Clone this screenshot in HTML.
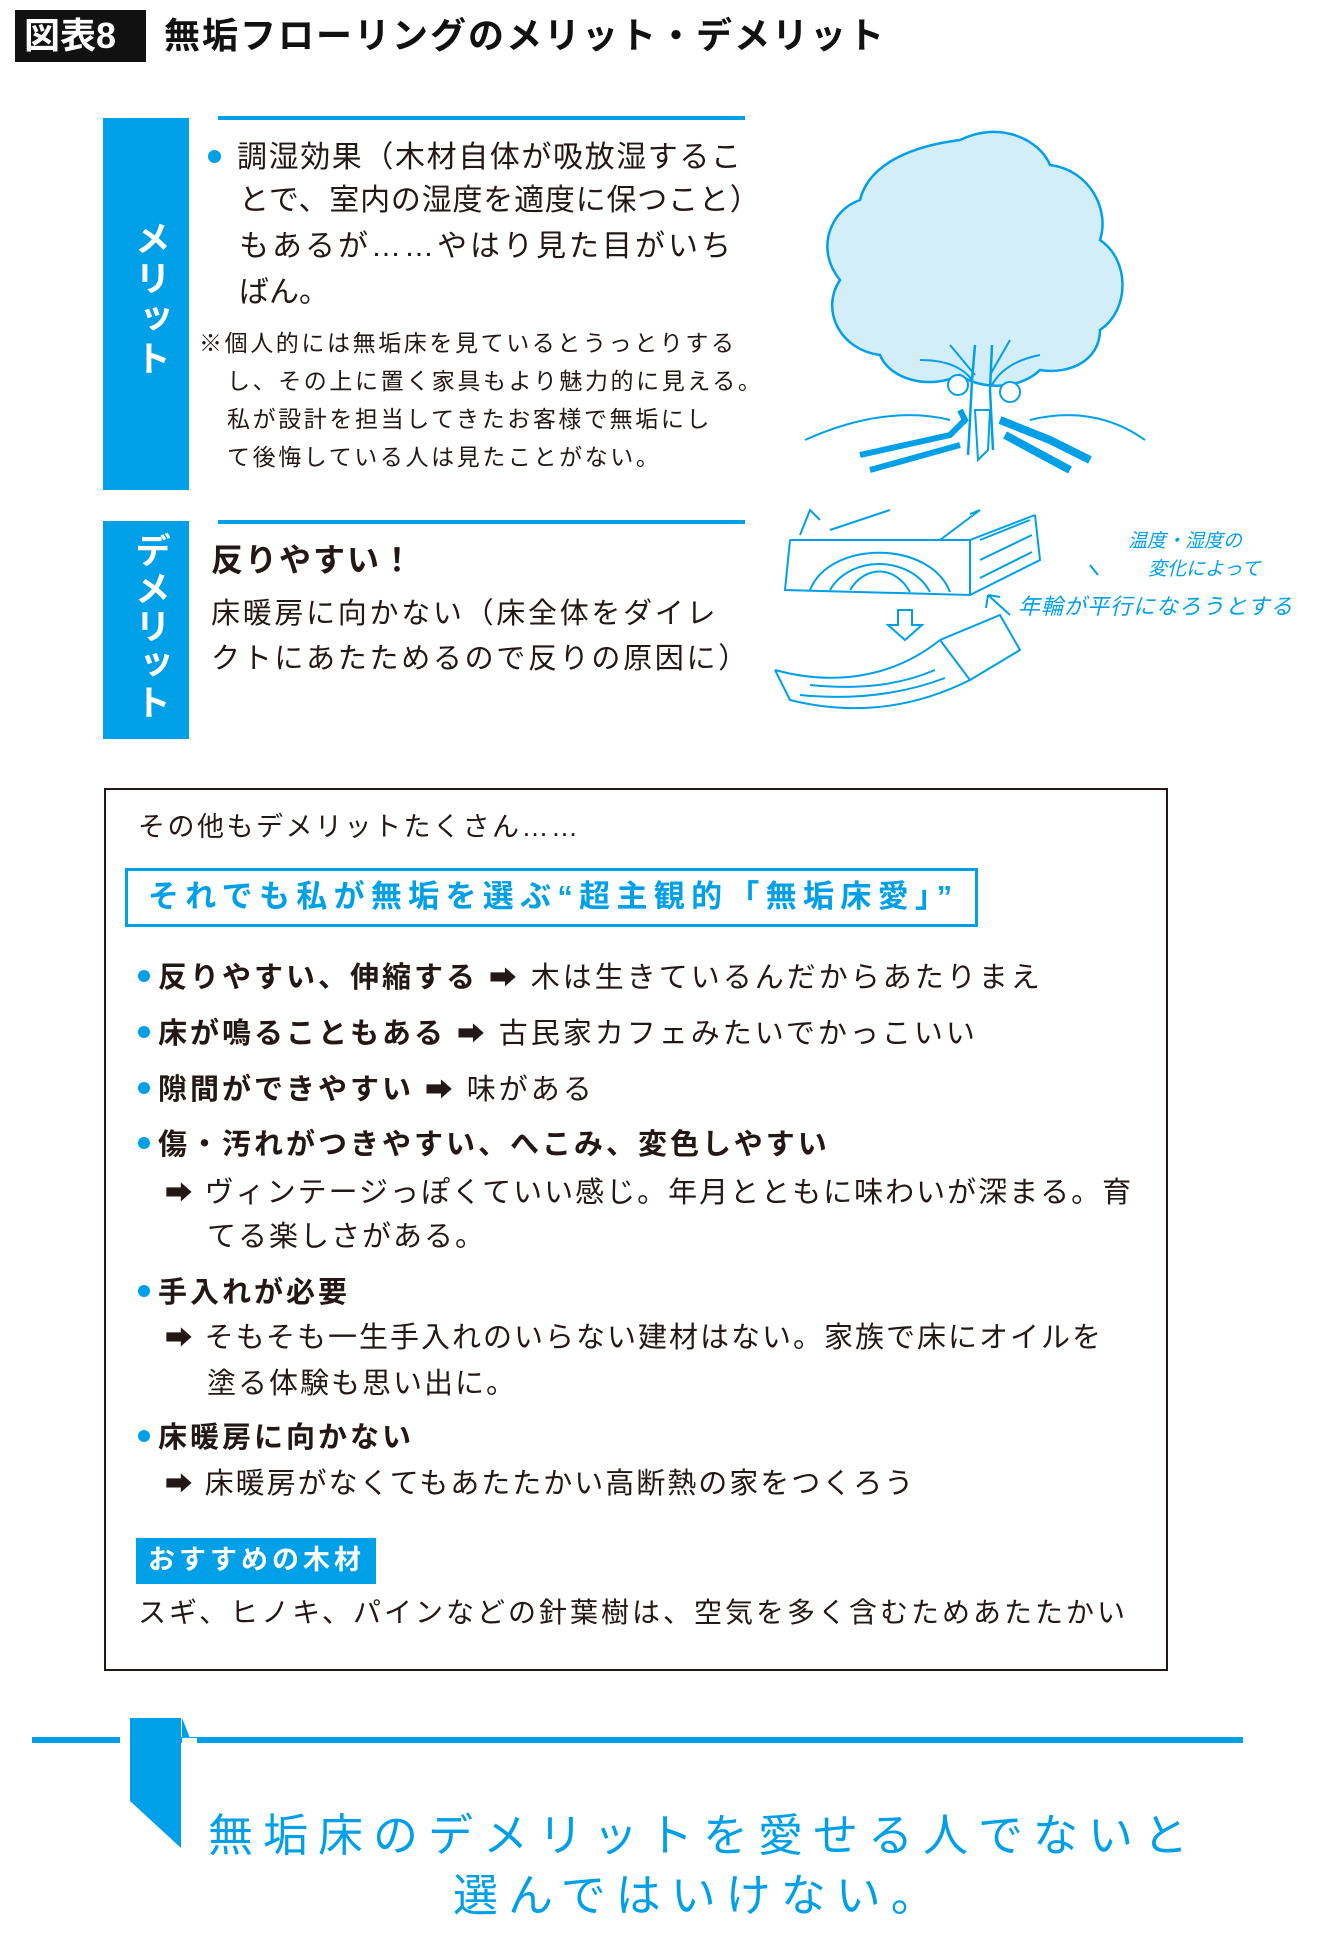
<!DOCTYPE html>
<html><head><meta charset="utf-8"><style>
*{margin:0;padding:0;box-sizing:border-box}
body{width:1340px;height:1946px;background:#fff;position:relative;overflow:hidden;font-family:"Liberation Sans","Noto Sans CJK JP",sans-serif;color:#231815}
.a{position:absolute;white-space:nowrap}
.t{line-height:1}
.blue{color:#00a0e9}
.b{font-weight:bold}
.dot{display:inline-block;width:12px;height:12px;border-radius:50%;background:#00a0e9;vertical-align:middle;margin-right:8px;position:relative;top:-3px}
.ar{font-size:0.95em}
.li{letter-spacing:3px}
.li2{letter-spacing:2px}
</style></head><body>
<!-- title -->
<div class="a" style="left:15px;top:10px;width:131px;height:52px;background:#111"></div>
<div class="a t b" style="left:24px;top:18px;font-size:36px;color:#fff">図表8</div>
<div class="a t b" style="left:164px;top:18px;font-size:36px;color:#111;letter-spacing:2px">無垢フローリングのメリット・デメリット</div>

<!-- merit -->
<div class="a" style="left:103px;top:118px;width:86px;height:372px;background:#00a0e9"></div>
<div class="a b" style="left:124px;top:220px;font-size:36px;color:#fff;writing-mode:vertical-rl;letter-spacing:4px">メリット</div>
<div class="a" style="left:218px;top:116px;width:527px;height:4px;background:#00a0e9"></div>
<div class="a t" style="left:208px;top:143px;font-size:30px;letter-spacing:1.6px"><span class="dot" style="width:13px;height:13px;margin-right:16px"></span>調湿効果（木材自体が吸放湿するこ</div>
<div class="a t" style="left:239px;top:186px;font-size:30px;letter-spacing:0.8px">とで、室内の湿度を適度に保つこと）</div>
<div class="a t" style="left:239px;top:232px;font-size:30px;letter-spacing:3px">もあるが……やはり見た目がいち</div>
<div class="a t" style="left:239px;top:278px;font-size:30px">ばん。</div>
<div class="a t" style="left:199px;top:332px;font-size:23px;letter-spacing:2.6px">※個人的には無垢床を見ているとうっとりする</div>
<div class="a t" style="left:227px;top:370px;font-size:23px;letter-spacing:2.6px">し、その上に置く家具もより魅力的に見える。</div>
<div class="a t" style="left:227px;top:408px;font-size:23px;letter-spacing:2.6px">私が設計を担当してきたお客様で無垢にし</div>
<div class="a t" style="left:227px;top:446px;font-size:23px;letter-spacing:2.6px">て後悔している人は見たことがない。</div>

<!-- tree -->
<svg class="a" style="left:800px;top:120px" width="360" height="360" viewBox="0 0 360 360">
<path d="M160 20 C200 0 240 20 250 45 C290 50 310 90 300 120 C330 140 330 190 300 210 C300 240 270 255 240 250 C220 270 180 270 160 255 C130 270 90 260 80 235 C40 230 20 190 40 160 C15 130 30 90 60 80 C70 40 120 25 160 20 Z" fill="#d3edf9" stroke="#00a0e9" stroke-width="2.5"/>
<path d="M175 225 L172 260 L170 300 L168 335 M192 225 L190 270 L193 330" stroke="#00a0e9" stroke-width="2.5" fill="none"/>
<path d="M120 240 C150 240 165 250 172 260 M240 235 C215 240 200 250 192 265 M150 225 L175 255 M210 220 L190 255" stroke="#00a0e9" stroke-width="2" fill="none"/>
<path d="M5 320 C60 295 110 290 150 300 M230 300 C270 290 310 295 345 320" stroke="#00a0e9" stroke-width="2" fill="none"/>
<path d="M60 335 L150 315 L165 300 L160 290 M70 350 L160 325" stroke="#00a0e9" stroke-width="6" fill="none"/>
<circle cx="158" cy="265" r="10" fill="#fff" stroke="#00a0e9" stroke-width="2"/>
<circle cx="210" cy="272" r="10" fill="#fff" stroke="#00a0e9" stroke-width="2"/>
<path d="M200 300 L250 320 L290 340 M205 315 L270 350" stroke="#00a0e9" stroke-width="8" fill="none"/>
<path d="M175 290 L190 290 L188 330 L178 340 Z" fill="#fff" stroke="#00a0e9" stroke-width="2"/>
</svg>

<!-- demerit -->
<div class="a" style="left:103px;top:521px;width:86px;height:218px;background:#00a0e9"></div>
<div class="a b" style="left:124px;top:532px;font-size:36px;color:#fff;writing-mode:vertical-rl;letter-spacing:2px">デメリット</div>
<div class="a" style="left:218px;top:520px;width:527px;height:4px;background:#00a0e9"></div>
<div class="a t b" style="left:211px;top:544px;font-size:32px;letter-spacing:2px">反りやすい！</div>
<div class="a t" style="left:211px;top:600px;font-size:29px;letter-spacing:2.7px">床暖房に向かない（床全体をダイレ</div>
<div class="a t" style="left:211px;top:645px;font-size:29px;letter-spacing:2.7px">クトにあたためるので反りの原因に）</div>

<!-- planks -->
<svg class="a" style="left:770px;top:500px" width="330" height="220" viewBox="0 0 330 220">
<g stroke="#00a0e9" stroke-width="2" fill="none">
<path d="M20 40 L200 40 L265 15 M20 40 L15 90 L200 95 L270 60 L265 15 M200 40 L200 95"/>
<path d="M40 90 C60 40 160 40 180 92 M60 90 C80 55 140 55 160 92 M80 90 C95 65 125 65 140 92 M210 40 L260 20 M210 60 L262 35 M210 78 L262 52"/>
<path d="M30 35 L40 10 L50 20 M60 30 L120 10 M170 40 L210 10 L200 14"/>
<path d="M128 110 L128 125 L118 125 L135 140 L152 125 L142 125 L142 110 Z"/>
<path d="M5 170 C60 185 120 180 170 140 M5 170 L20 200 C80 215 140 210 200 180 L170 140 M200 180 L250 150 L230 115 L170 140 M30 195 C80 200 130 195 175 178 M40 185 C90 190 130 185 165 170"/>
<path d="M320 65 L328 75 M218 95 L240 115 M218 95 L216 108 M218 95 L230 97"/>
</g>
</svg>
<div class="a t blue" style="left:1128px;top:532px;font-size:19px;font-style:italic">温度・湿度の</div>
<div class="a t blue" style="left:1148px;top:560px;font-size:19px;font-style:italic">変化によって</div>
<div class="a t blue" style="left:1018px;top:596px;font-size:22px;font-style:italic;letter-spacing:1px">年輪が平行になろうとする</div>

<!-- box -->
<div class="a" style="left:104px;top:788px;width:1064px;height:883px;border:2px solid #231815"></div>
<div class="a t" style="left:138px;top:814px;font-size:27px;letter-spacing:2.5px">その他もデメリットたくさん……</div>
<div class="a" style="left:125px;top:868px;width:853px;height:59px;border:3px solid #00a0e9"></div>
<div class="a t b blue" style="left:148px;top:881px;font-size:31px;letter-spacing:6.3px">それでも私が無垢を選ぶ“超主観的「無垢床愛」”</div>

<div class="a t li" style="left:138px;top:964px;font-size:29px"><span class="dot"></span><b>反りやすい、伸縮する</b> <span class="ar">➡</span> 木は生きているんだからあたりまえ</div>
<div class="a t li" style="left:138px;top:1020px;font-size:29px"><span class="dot"></span><b>床が鳴ることもある</b> <span class="ar">➡</span> 古民家カフェみたいでかっこいい</div>
<div class="a t li" style="left:138px;top:1076px;font-size:29px"><span class="dot"></span><b>隙間ができやすい</b> <span class="ar">➡</span> 味がある</div>
<div class="a t li" style="left:138px;top:1131px;font-size:29px"><span class="dot"></span><b>傷・汚れがつきやすい、へこみ、変色しやすい</b></div>
<div class="a t li2" style="left:165px;top:1179px;font-size:29px"><span class="ar">➡</span> ヴィンテージっぽくていい感じ。年月とともに味わいが深まる。育</div>
<div class="a t li2" style="left:207px;top:1223px;font-size:29px">てる楽しさがある。</div>
<div class="a t li" style="left:138px;top:1279px;font-size:29px"><span class="dot"></span><b>手入れが必要</b></div>
<div class="a t li2" style="left:165px;top:1324px;font-size:29px"><span class="ar">➡</span> そもそも一生手入れのいらない建材はない。家族で床にオイルを</div>
<div class="a t li2" style="left:207px;top:1370px;font-size:29px">塗る体験も思い出に。</div>
<div class="a t li" style="left:138px;top:1424px;font-size:29px"><span class="dot"></span><b>床暖房に向かない</b></div>
<div class="a t li2" style="left:165px;top:1470px;font-size:29px"><span class="ar">➡</span> 床暖房がなくてもあたたかい高断熱の家をつくろう</div>

<div class="a" style="left:136px;top:1538px;width:240px;height:46px;background:#00a0e9"></div>
<div class="a t b" style="left:148px;top:1547px;font-size:27px;color:#fff;letter-spacing:4px">おすすめの木材</div>
<div class="a t" style="left:138px;top:1599px;font-size:28px;letter-spacing:3px">スギ、ヒノキ、パインなどの針葉樹は、空気を多く含むためあたたかい</div>

<!-- bottom -->
<div class="a" style="left:32px;top:1737px;width:1211px;height:6px;background:#00a0e9"></div>
<svg class="a" style="left:120px;top:1718px" width="80" height="135" viewBox="0 0 80 135">
<rect x="0" y="17" width="10" height="10" fill="#fff"/>
<path d="M10 0 L61 0 L61 130 L10 83 Z" fill="#00a0e9"/>
<path d="M62 0 L70 20 L62 20 Z" fill="#00a0e9"/>
<rect x="62" y="20" width="15" height="8" fill="#fff"/>
</svg>
<div class="a t blue" style="left:208px;top:1813px;font-size:45px;letter-spacing:10px">無垢床のデメリットを愛せる人でないと</div>
<div class="a t blue" style="left:453px;top:1873px;font-size:45px;letter-spacing:10px">選んではいけない。</div>
</body></html>
